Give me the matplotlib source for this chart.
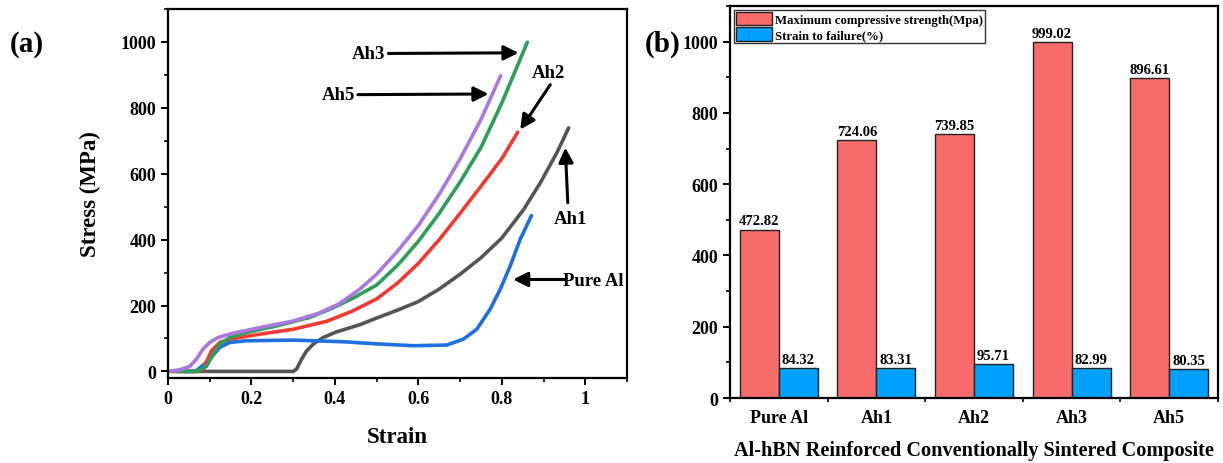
import numpy as np
import matplotlib
matplotlib.use("Agg")
import matplotlib.pyplot as plt
from matplotlib.ticker import MultipleLocator, FixedLocator

plt.rcParams["font.family"] = ["Liberation Serif", "DejaVu Serif"]
plt.rcParams["font.weight"] = "bold"

# ---- Stress-strain curves (strain, stress in MPa) ----
pure_al_strain = [0.04, 0.06, 0.068, 0.085, 0.10, 0.124, 0.148, 0.188, 0.30, 0.42, 0.508,
                  0.588, 0.668, 0.708, 0.74, 0.772, 0.796, 0.82, 0.844, 0.871]
pure_al_stress = [0, 0, 2, 20, 37, 73, 88, 93, 95, 90, 83, 78, 80, 98, 128, 189, 249, 320, 401, 473]

ah1_strain = [0.02, 0.30, 0.308, 0.32, 0.332, 0.348, 0.372, 0.404, 0.46, 0.50, 0.55, 0.60,
              0.65, 0.70, 0.75, 0.80, 0.852, 0.892, 0.932, 0.96]
ah1_stress = [0, 0, 7, 37, 62, 83, 103, 120, 142, 162, 186, 212, 250, 295, 345, 405, 491, 572,
              664, 739]

ah2_strain = [0.0, 0.07, 0.084, 0.104, 0.124, 0.148, 0.22, 0.30, 0.38, 0.44, 0.50, 0.55, 0.60,
              0.65, 0.70, 0.75, 0.80, 0.838]
ah2_stress = [0, 0, 7, 62, 88, 98, 113, 128, 152, 182, 220, 268, 328, 400, 480, 562, 646, 726]

ah3_strain = [0.02, 0.068, 0.092, 0.108, 0.124, 0.148, 0.188, 0.26, 0.34, 0.39, 0.44, 0.50,
              0.55, 0.60, 0.65, 0.70, 0.75, 0.80, 0.861]
ah3_stress = [0, 0, 15, 52, 83, 103, 118, 138, 164, 190, 220, 262, 322, 395, 480, 575, 680, 815,
              999]

ah5_strain = [0.0, 0.028, 0.052, 0.068, 0.084, 0.10, 0.12, 0.156, 0.22, 0.30, 0.36, 0.41,
              0.46, 0.50, 0.55, 0.60, 0.65, 0.70, 0.75, 0.797]
ah5_stress = [0, 5, 15, 37, 68, 88, 103, 116, 133, 153, 176, 205, 250, 295, 365, 443, 538, 645,
              765, 897]

# ---- Bar chart data ----
samples = ["Pure Al", "Ah1", "Ah2", "Ah3", "Ah5"]
max_strength = [472.82, 724.06, 739.85, 999.02, 896.61]
strain_to_failure = [84.32, 83.31, 95.71, 82.99, 80.35]

fig = plt.figure(figsize=(12.23, 4.64), dpi=100)

# ---------------- (a) stress-strain ----------------
ax1 = fig.add_axes([0.1374, 0.1832, 0.3753, 0.7953])
curves = [
    (ah1_strain, ah1_stress, "#555555"),
    (pure_al_strain, pure_al_stress, "#1f6fe0"),
    (ah2_strain, ah2_stress, "#f23a35"),
    (ah3_strain, ah3_stress, "#2e9e5b"),
    (ah5_strain, ah5_stress, "#a978e0"),
]
for xs, ys, c in curves:
    ax1.plot(xs, ys, color=c, lw=2.6, solid_capstyle="round", solid_joinstyle="round")

ax1.set_xlim(0, 1.1)
ax1.set_ylim(-20, 1100)
ax1.xaxis.set_major_locator(FixedLocator([0, 0.2, 0.4, 0.6, 0.8, 1.0]))
ax1.set_xticklabels(["0", "0.2", "0.4", "0.6", "0.8", "1"])
ax1.xaxis.set_minor_locator(MultipleLocator(0.1))
ax1.yaxis.set_major_locator(FixedLocator([0, 200, 400, 600, 800, 1000]))
ax1.yaxis.set_minor_locator(MultipleLocator(100))
ax1.set_xlabel("Strain", fontsize=16.5, fontweight="bold", labelpad=14)
ax1.set_ylabel("Stress (MPa)", fontsize=16.5, fontweight="bold", labelpad=14)

arrow = dict(arrowstyle="-|>", lw=2.2, color="black", mutation_scale=22, shrinkA=0, shrinkB=0)
lab_kw = dict(fontsize=13.5, fontweight="bold", va="center")
ax1.annotate("", xy=(0.840, 967), xytext=(0.528, 965), arrowprops=arrow)
ax1.text(0.481, 965, "Ah3", ha="center", **lab_kw)
ax1.annotate("", xy=(0.768, 842), xytext=(0.455, 840), arrowprops=arrow)
ax1.text(0.409, 840, "Ah5", ha="center", **lab_kw)
ax1.annotate("", xy=(0.844, 734), xytext=(0.916, 870), arrowprops=arrow)
ax1.text(0.912, 906, "Ah2", ha="center", **lab_kw)
ax1.annotate("", xy=(0.952, 679), xytext=(0.958, 512), arrowprops=arrow)
ax1.text(0.965, 463, "Ah1", ha="center", **lab_kw)
ax1.annotate("", xy=(0.827, 279), xytext=(0.95, 279), arrowprops=arrow)
ax1.text(0.946, 276, "Pure Al", ha="left", **lab_kw)

fig.text(0.008, 0.905, "(a)", fontsize=21, fontweight="bold", ha="left", va="center")

# ---------------- (b) bar chart ----------------
ax2 = fig.add_axes([0.5969, 0.140, 0.399, 0.845])
pos = np.arange(len(samples))
w = 0.4
b1 = ax2.bar(pos - w / 2, max_strength, w, color="#f86b6b", edgecolor="#222222", lw=1.0,
             label="Maximum compressive strength(Mpa)")
b2 = ax2.bar(pos + w / 2, strain_to_failure, w, color="#00a0ff", edgecolor="#222222", lw=1.0,
             label="Strain to failure(%)")
for bars, vals in ((b1, max_strength), (b2, strain_to_failure)):
    for rect, v in zip(bars, vals):
        ax2.text(rect.get_x() + rect.get_width() / 2, v + 6, f"{v:.2f}", ha="center",
                 va="bottom", fontsize=10.5, fontweight="bold")

ax2.set_xlim(-0.5, 4.5)
ax2.set_ylim(0, 1100)
ax2.set_xticks(pos)
ax2.set_xticklabels(samples)
ax2.xaxis.set_minor_locator(FixedLocator(np.arange(-0.5, 4.6, 1.0)))
ax2.yaxis.set_major_locator(FixedLocator([0, 200, 400, 600, 800, 1000]))
ax2.yaxis.set_minor_locator(MultipleLocator(100))
ax2.set_xlabel("Al-hBN Reinforced Conventionally Sintered Composite", fontsize=14.6,
               fontweight="bold", labelpad=10)
leg = ax2.legend(loc="upper left", fontsize=9.2, frameon=True, fancybox=False, edgecolor="black",
                 handlelength=2.8, handleheight=1.25, borderpad=0.15, labelspacing=0.1,
                 handletextpad=0.3, borderaxespad=0.3)
leg.get_frame().set_linewidth(1.0)

fig.text(0.5275, 0.905, "(b)", fontsize=21, fontweight="bold", ha="left", va="center")

for ax in (ax1, ax2):
    for s in ax.spines.values():
        s.set_linewidth(1.6)
    ax.tick_params(which="major", direction="out", length=5, width=1.4, labelsize=13)
    ax.tick_params(which="minor", direction="out", length=3, width=1.2)
    for lab in ax.get_xticklabels() + ax.get_yticklabels():
        lab.set_fontweight("bold")
ax2.tick_params(axis="x", which="major", length=0, pad=8)

fig.savefig("out.png", dpi=100)
